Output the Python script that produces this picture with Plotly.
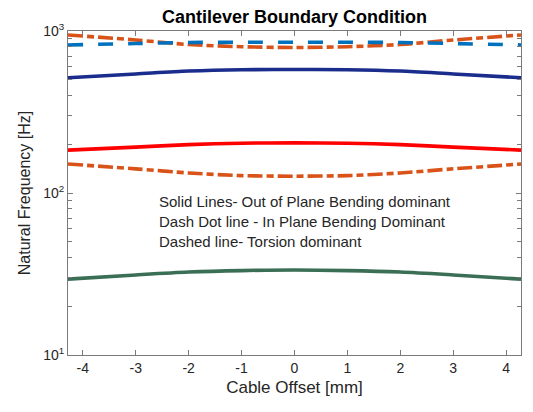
import plotly.graph_objects as go

# Cable offset positions [mm]
offset_mm = [-4.28, -3, -2, -1, 0, 1, 2, 3, 4.28]

# Natural frequencies [Hz] for each mode family
oop_mode_1 = [29.4, 31.2, 32.5, 33.2, 33.5, 33.2, 32.5, 31.2, 29.4]      # solid, green
oop_mode_2 = [184, 192, 199, 203, 204, 203, 199, 192, 184]              # solid, red
oop_mode_3 = [515, 543, 566, 577, 578, 577, 566, 543, 515]              # solid, navy
ip_mode_1 = [151, 141, 133, 128, 127, 128, 133, 141, 151]               # dash-dot, orange
ip_mode_2 = [945, 880, 825, 800, 791, 800, 825, 880, 945]               # dash-dot, orange
torsion_mode_1 = [820, 837, 849, 852, 852, 852, 849, 837, 820]          # dashed, blue

x_ticks = [-4, -3, -2, -1, 0, 1, 2, 3, 4]
y_major = [10, 100, 1000]
y_major_text = ["10<sup>1</sup>", "10<sup>2</sup>", "10<sup>3</sup>"]
y_minor = [m * d for d in (10, 100) for m in range(2, 10)]
notes = [
    "Solid Lines- Out of Plane Bending dominant",
    "Dash Dot line - In Plane Bending Dominant",
    "Dashed line- Torsion dominant",
]

FONT = "Liberation Sans, Arial, Helvetica, sans-serif"
DASHDOT = "15px,4px,7px,4px"
DASHED = "15px,15px"
AXIS_GRAY = "#7a7a7a"
TEXT = "#262626"

series = [
    (oop_mode_1, "#3b6f55", "solid"),
    (oop_mode_2, "#ff0000", "solid"),
    (oop_mode_3, "#1a2d8c", "solid"),
    (ip_mode_1, "#d95319", DASHDOT),
    (ip_mode_2, "#d95319", DASHDOT),
    (torsion_mode_1, "#0072bd", DASHED),
]

fig = go.Figure()
for vals, color, dash in series:
    fig.add_trace(go.Scatter(
        x=offset_mm, y=vals, mode="lines",
        line=dict(color=color, width=3.6, dash=dash, shape="spline", smoothing=0.8),
        showlegend=False, hoverinfo="skip",
    ))

fig.update_xaxes(
    range=[-4.28, 4.28], tickvals=x_ticks, ticktext=[str(t) for t in x_ticks],
    showgrid=False, zeroline=False,
    showline=True, linecolor=AXIS_GRAY, linewidth=1, mirror="ticks",
    ticks="inside", ticklen=5, tickcolor=AXIS_GRAY,
    tickfont=dict(family=FONT, size=14, color=TEXT),
    title=dict(text="Cable Offset [mm]", font=dict(family=FONT, size=17, color=TEXT), standoff=6),
)

fig.update_yaxes(
    type="log", range=[1, 3], tickvals=y_major, ticktext=y_major_text,
    showgrid=False, zeroline=False,
    showline=True, linecolor=AXIS_GRAY, linewidth=1, mirror="ticks",
    ticks="inside", ticklen=5, tickcolor=AXIS_GRAY,
    minor=dict(tickmode="array", tickvals=y_minor, ticks="inside", ticklen=4,
               tickwidth=1, tickcolor=AXIS_GRAY, showgrid=False),
    tickfont=dict(family=FONT, size=14, color=TEXT),
    title=dict(text="Natural Frequency [Hz]", font=dict(family=FONT, size=16, color=TEXT), standoff=8),
)

# note lines placed by pixel position, converted to paper coordinates
W, H = 533, 412
ML, MR, MT, MB = 68, 12, 31, 57
pw, ph = W - ML - MR, H - MT - MB
for i, line in enumerate(notes):
    fig.add_annotation(
        x=(157 - ML) / pw, y=1 - (201 + 20 * i - MT) / ph, xref="paper", yref="paper",
        text=line, showarrow=False, xanchor="left", yanchor="middle",
        font=dict(family=FONT, size=15, color=TEXT),
    )

fig.update_layout(
    width=W, height=H,
    margin=dict(l=ML, r=MR, t=MT, b=MB),
    paper_bgcolor="white", plot_bgcolor="white",
    title=dict(text="<b>Cantilever Boundary Condition</b>", x=(ML + pw / 2) / W, xanchor="center",
               y=1 - 17 / H, yanchor="middle",
               font=dict(family=FONT, size=18, color="#000000")),
)

fig.write_html("out.html")
